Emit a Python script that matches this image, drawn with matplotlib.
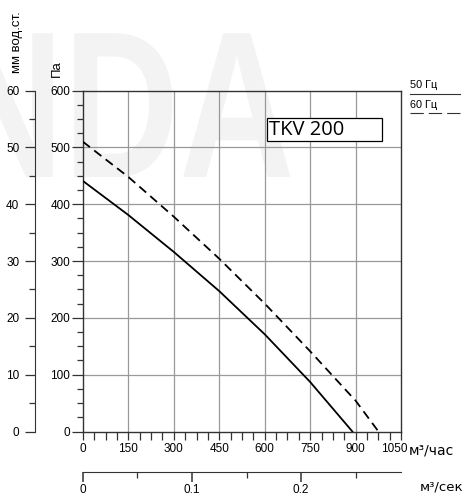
import matplotlib
matplotlib.use("Agg")
import matplotlib.pyplot as plt
from matplotlib.ticker import MultipleLocator
from matplotlib.patches import Rectangle, PathPatch
from matplotlib.lines import Line2D
from matplotlib.textpath import TextPath
from matplotlib.font_manager import FontProperties
from matplotlib.transforms import Affine2D, ScaledTranslation

plt.rcParams['font.family'] = ['Liberation Sans', 'DejaVu Sans']

# data
flow_50 = [0, 150, 300, 450, 600, 750, 889]          # m3/h
pres_50 = [441, 381, 316, 247, 171, 87, 0]           # Pa
flow_60 = [0, 150, 300, 450, 600, 750, 900, 975]
pres_60 = [510, 448, 378, 304, 225, 141, 54, 0]

x_major = [0, 150, 300, 450, 600, 750, 900, 1050]
sec_major = [0, 0.1, 0.2]
sec_labels = ['0', '0.1', '0.2']
model = 'TKV 200'

W, H = 465, 495
def fx(px):
    return px / W
def fy(py):
    return 1 - py / H

fig = plt.figure(figsize=(W / 100, H / 100), dpi=100)

# faint watermark behind the chart (narrowed letters)
wm = TextPath((0, 0), 'NDA', size=1, prop=FontProperties(family='Liberation Sans', weight='bold'))
wm_tr = Affine2D().scale(160 / W, 209 / H).translate(-52 / W, fy(177)) + fig.transFigure
fig.add_artist(PathPatch(wm, facecolor='#f3f3f3', edgecolor='none', transform=wm_tr, zorder=-5))

x0, x1 = 82.8, 401.2
ytop, ybot = 90.5, 431.5
ax = fig.add_axes([fx(x0), fy(ybot), fx(x1) - fx(x0), fy(ytop) - fy(ybot)])
ax.patch.set_visible(False)
ax.set_xlim(0, 1050)
ax.set_ylim(0, 600)
for s in ax.spines.values():
    s.set_color('#333333')
    s.set_linewidth(1.0)

ax.xaxis.set_minor_locator(MultipleLocator(37.5))
ax.yaxis.set_major_locator(MultipleLocator(100))
ax.yaxis.set_minor_locator(MultipleLocator(25))
ax.set_xticks(x_major)
ax.tick_params(axis='x', which='both', direction='out', length=6, width=0.9,
               color='#333333', labelsize=8.5, pad=2)
ax.tick_params(axis='y', which='major', direction='out', length=8, width=0.9,
               color='#333333', labelsize=8.5, pad=1)
ax.tick_params(axis='y', which='minor', direction='out', length=4.5, width=0.9, color='#333333')
# last label sits a little to the left, before the unit
last = ax.get_xticklabels()[-1]
last.set_transform(last.get_transform() + ScaledTranslation(-7 / 100, 0, fig.dpi_scale_trans))

for v in x_major[1:-1]:
    ax.axvline(v, color='#999999', lw=0.9, zorder=1)
for v in range(100, 600, 100):
    ax.axhline(v, color='#999999', lw=0.9, zorder=1)

ax.plot(flow_50, pres_50, color='black', lw=1.3, zorder=3)
l60, = ax.plot(flow_60, pres_60, color='black', lw=1.3, zorder=3)
l60.set_dashes([5, 3])

# model box
ax.add_patch(Rectangle((606, 512), 381, 40, facecolor='white', edgecolor='black',
                       lw=0.9, zorder=4))
ax.text(613, 531, model, fontsize=14.5, family='Open Sans', va='center', ha='left', zorder=5)

# mm water column axis
axm = fig.add_axes([fx(34.7), fy(ybot), 0.001, fy(ytop) - fy(ybot)])
axm.patch.set_visible(False)
for k in ['top', 'right', 'bottom']:
    axm.spines[k].set_visible(False)
axm.spines['left'].set_color('#333333')
axm.set_ylim(0, 60)
axm.set_xticks([])
axm.yaxis.set_major_locator(MultipleLocator(10))
axm.yaxis.set_minor_locator(MultipleLocator(5))
axm.tick_params(axis='y', which='major', length=7.5, width=0.9, color='#333333',
                labelsize=8.5, pad=3.5)
axm.tick_params(axis='y', which='minor', length=4, width=0.9, color='#333333')

# m3/s axis
axs = fig.add_axes([fx(x0), fy(471.7), fx(x1) - fx(x0), 0.001])
axs.patch.set_visible(False)
for k in ['top', 'right', 'left']:
    axs.spines[k].set_visible(False)
axs.spines['bottom'].set_color('#333333')
axs.set_xlim(0, 1050 / 3600)
axs.set_yticks([])
axs.set_xticks(sec_major)
axs.set_xticklabels(sec_labels)
axs.xaxis.set_minor_locator(MultipleLocator(0.05))
axs.tick_params(axis='x', which='major', length=7.5, width=1.1, color='#333333',
                labelsize=8.5, pad=1)
axs.tick_params(axis='x', which='minor', length=4, width=0.9, color='#333333')

# unit labels
fig.text(fx(409), fy(450), 'м³/час', fontsize=10, family='DejaVu Sans', ha='left', va='center')
fig.text(fx(463), fy(487), 'м³/сек', fontsize=9.5, family='DejaVu Sans', ha='right', va='center')
fig.text(fx(17), fy(42), 'мм вод.ст.', fontsize=9.5, rotation=90, ha='center', va='center')
fig.text(fx(57), fy(69), 'Па', fontsize=9.5, rotation=90, ha='center', va='center')

# legend
fig.text(fx(410), fy(85), '50 Гц', fontsize=7.8, ha='left', va='center')
fig.add_artist(Line2D([fx(410), fx(460)], [fy(94.3), fy(94.3)], color='#333333', lw=0.8))
fig.text(fx(410), fy(105), '60 Гц', fontsize=7.8, ha='left', va='center')
fig.add_artist(Line2D([fx(410), fx(460)], [fy(113.3), fy(113.3)], color='#333333', lw=0.8,
                      dashes=[12, 4.5]))

fig.savefig('out.png', dpi=100)
